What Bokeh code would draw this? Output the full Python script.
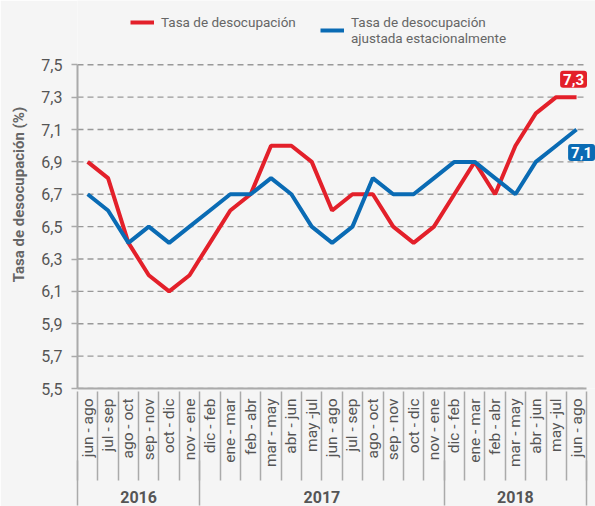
import math
from bokeh.plotting import figure
from bokeh.models import (LinearAxis, FixedTicker, CustomJSTickFormatter, Range1d,
                          Legend, LegendItem, Label)
from bokeh.embed import file_html
from bokeh.resources import INLINE

# ---------------- data ----------------
periods = ["jun - ago", "jul - sep", "ago - oct", "sep - nov", "oct - dic", "nov - ene",
           "dic - feb", "ene - mar", "feb - abr", "mar - may", "abr - jun", "may -jul",
           "jun - ago", "jul - sep", "ago - oct", "sep - nov", "oct - dic", "nov - ene",
           "dic - feb", "ene - mar", "feb - abr", "mar - may", "abr - jun", "may -jul",
           "jun - ago"]
years = ["2016", "2017", "2018"]
year_counts = [6, 12, 7]
tasa = [6.9, 6.8, 6.4, 6.2, 6.1, 6.2, 6.4, 6.6, 6.7, 7.0, 7.0, 6.9, 6.6,
        6.7, 6.7, 6.5, 6.4, 6.5, 6.7, 6.9, 6.7, 7.0, 7.2, 7.3, 7.3]
tasa_aj = [6.7, 6.6, 6.4, 6.5, 6.4, 6.5, 6.6, 6.7, 6.7, 6.8, 6.7, 6.5, 6.4,
           6.5, 6.8, 6.7, 6.7, 6.8, 6.9, 6.9, 6.8, 6.7, 6.9, 7.0, 7.1]
y_ticks = [5.5, 5.7, 5.9, 6.1, 6.3, 6.5, 6.7, 6.9, 7.1, 7.3, 7.5]
series_names = ["Tasa de desocupación", "Tasa de desocupación\najustada estacionalmente"]
y_title = "Tasa de desocupación (%)"

RED = "#e3202a"
BLUE = "#0a6bb4"
BG = "#f5f5f5"
GRAY = "#aaaaaa"
TXT = "#555555"
FONT = "Roboto"

x = list(range(len(periods)))
x_lo, x_hi = -0.5, len(periods) - 0.5
y_lo, y_hi = y_ticks[0], y_ticks[-1]
bounds = [i - 0.5 for i in range(len(periods) + 1)]
year_centers, year_bounds = [], [x_lo]
start = 0
for n in year_counts:
    year_centers.append(start + (n - 1) / 2)
    start += n
    year_bounds.append(start - 0.5)

# the frame reaches the top edge so the legend and value tags are not clipped
p = figure(width=595, height=506,
           x_range=Range1d(x_lo, x_hi + 0.43), y_range=Range1d(y_lo, y_hi + 0.397),
           output_backend="svg", toolbar_location=None, x_axis_location=None,
           min_border_left=77, min_border_right=0, min_border_top=0, min_border_bottom=118)
p.background_fill_color = BG
p.border_fill_color = BG
p.outline_line_color = None

# y axis
yax = p.yaxis[0]
yax.bounds = (y_lo, y_hi)
yax.ticker = FixedTicker(ticks=y_ticks)
yax.formatter = CustomJSTickFormatter(code="return tick.toFixed(1).replace('.', ',');")
yax.axis_label = y_title
yax.axis_label_text_font = FONT
yax.axis_label_text_font_style = "bold"
yax.axis_label_text_font_size = "15px"
yax.axis_label_text_color = "#666666"
yax.axis_label_standoff = 10
yax.major_label_text_font = FONT
yax.major_label_text_font_size = "16px"
yax.major_label_text_color = TXT
yax.major_label_standoff = 9
yax.major_tick_out = 6
yax.major_tick_in = 0
yax.major_tick_line_color = GRAY
yax.major_tick_line_width = 1.5
yax.minor_tick_line_color = None
yax.axis_line_color = GRAY
yax.axis_line_width = 2

# horizontal dashed grid lines, limited to the category span
p.xgrid.visible = False
p.ygrid.visible = False
p.segment(x0=[x_lo] * len(y_ticks), x1=[x_hi] * len(y_ticks), y0=y_ticks, y1=y_ticks,
          line_color="#999999", line_dash="6 4", line_width=1.3)

# category label axis
cat_axis = LinearAxis(
    bounds=(x_lo, x_hi),
    ticker=FixedTicker(ticks=x),
    formatter=CustomJSTickFormatter(args=dict(labels=periods),
                                    code="const i = Math.round(tick); return (i >= 0 && i < labels.length) ? labels[i] : '';"),
    major_label_orientation=math.pi / 2,
    major_tick_out=0, major_tick_in=0, minor_tick_line_color=None,
    axis_line_color=GRAY, axis_line_width=2,
    major_label_text_font=FONT, major_label_text_font_size="15.5px",
    major_label_text_color=TXT, major_label_standoff=10)
p.add_layout(cat_axis, "below")

# year label axis (its minor ticks draw the category separators upwards)
year_axis = LinearAxis(
    bounds=(x_lo, x_hi),
    ticker=FixedTicker(ticks=year_centers, minor_ticks=bounds),
    formatter=CustomJSTickFormatter(args=dict(centers=year_centers, labels=years),
                                    code="for (let j = 0; j < centers.length; j++) { if (Math.abs(centers[j] - tick) < 1e-6) return labels[j]; } return '';"),
    major_tick_out=0, major_tick_in=0,
    minor_tick_out=11, minor_tick_in=78,
    minor_tick_line_color=GRAY, minor_tick_line_width=1.5,
    axis_line_color=None,
    major_label_text_font=FONT, major_label_text_font_size="16px",
    major_label_text_font_style="bold",
    major_label_text_color=TXT, major_label_standoff=10)
p.add_layout(year_axis, "below")

# year separators
sep_axis = LinearAxis(
    bounds=(x_lo, x_hi),
    ticker=FixedTicker(ticks=year_bounds),
    formatter=CustomJSTickFormatter(code="return '';"),
    major_tick_out=0, major_tick_in=45,
    major_tick_line_color=GRAY, major_tick_line_width=1.5,
    minor_tick_line_color=None, axis_line_color=None,
    major_label_text_font_size="0px", major_label_standoff=0)
p.add_layout(sep_axis, "below")

# lines
r1 = p.line(x, tasa, line_color=RED, line_width=4)
r2 = p.line(x, tasa_aj, line_color=BLUE, line_width=4)

legend_style = dict(orientation="horizontal", padding=0, margin=0, glyph_width=24,
                    glyph_height=14, label_standoff=7, label_text_font=FONT,
                    label_text_font_size="13.5px", label_text_color="#666666",
                    label_text_line_height=1.15, background_fill_alpha=0,
                    border_line_color=None)
legend_red = Legend(items=[LegendItem(label=series_names[0], renderers=[r1])],
                    location=(53, 358), **legend_style)
legend_blue = Legend(items=[LegendItem(label=series_names[1], renderers=[r2])],
                     location=(243, 342), **legend_style)
p.add_layout(legend_red, "center")
p.add_layout(legend_blue, "center")


def fmt(v):
    return f"{v:.1f}".replace(".", ",")


p.add_layout(Label(x=x[-1], y=tasa[-1], text=fmt(tasa[-1]), x_offset=-3, y_offset=18,
                   text_align="center", text_baseline="middle", text_color="white",
                   text_font=FONT, text_font_style="bold", text_font_size="15px",
                   background_fill_color=RED, border_radius=3, padding=3))
p.add_layout(Label(x=x[-1], y=tasa_aj[-1], text=fmt(tasa_aj[-1]), x_offset=5, y_offset=-23,
                   text_align="center", text_baseline="middle", text_color="white",
                   text_font=FONT, text_font_style="bold", text_font_size="15px",
                   background_fill_color=BLUE, border_radius=3, padding=3))

html = file_html(p, INLINE)
html = html.replace("<body>", '<body style="background-color:%s;">' % BG, 1)
open("out.html", "w").write(html)
